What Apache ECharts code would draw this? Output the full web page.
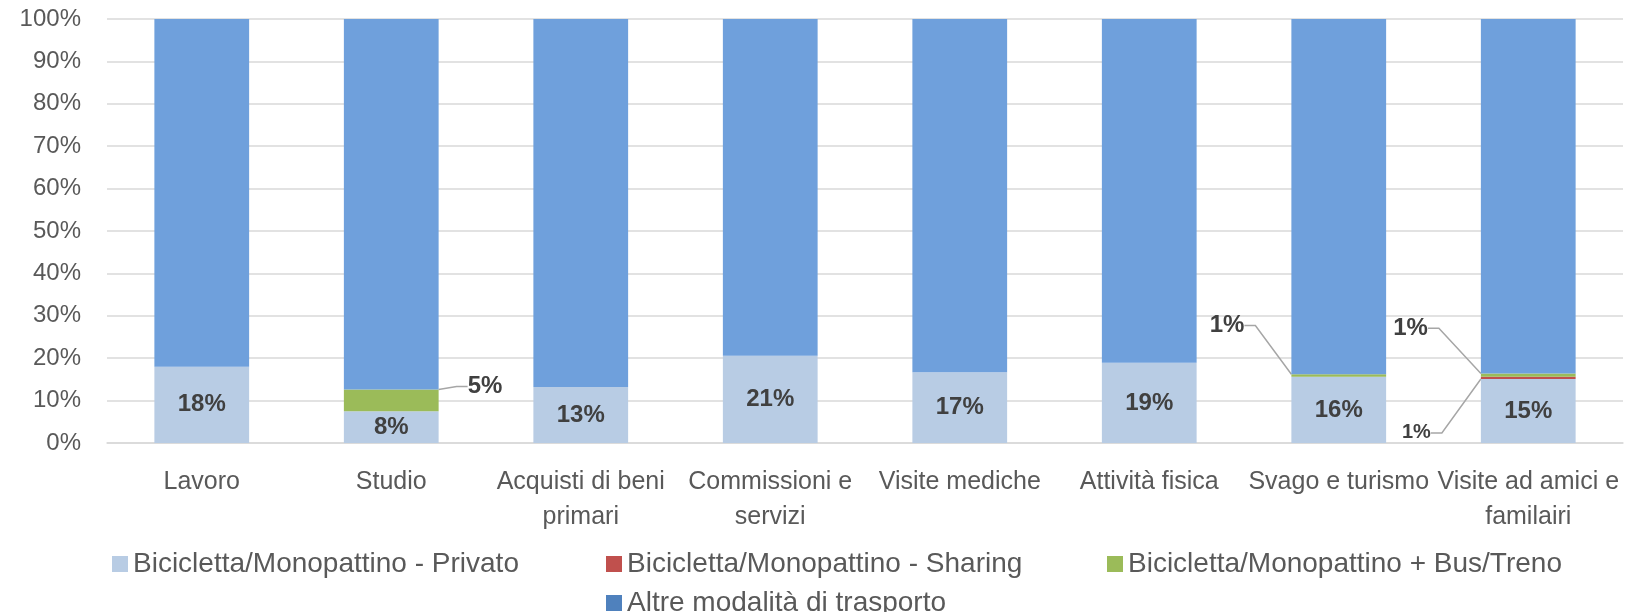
<!DOCTYPE html>
<html>
<head>
<meta charset="utf-8">
<script src="https://cdn.jsdelivr.net/npm/echarts@6/dist/echarts.min.js"></script>
<style>
	html, body { margin: 0; padding: 0; background: #fff; }
	#main { width: 1640px; height: 612px; }
</style>
</head>
<body>
<div id="main"></div>
<script>
// categorie
var categories = ['Lavoro', 'Studio', 'Acquisti di beni\nprimari', 'Commissioni e\nservizi', 'Visite mediche', 'Attività fisica', 'Svago e turismo', 'Visite ad amici e\nfamilairi'];
// serie (%)
var privato  = [18.0, 7.5, 13.2, 20.6, 16.7, 18.9, 15.6, 15.1];
var sharing  = [null, null, null, null, null, null, null, 0.5];
var busTreno = [null, 5.1, null, null, null, null, 0.6, 0.8];
var altre    = [82.0, 87.4, 86.8, 79.4, 83.3, 81.1, 83.8, 83.6];
var yTicks = [0, 10, 20, 30, 40, 50, 60, 70, 80, 90, 100];

var FONT = 'Liberation Sans';
var names = [
	'Bicicletta/Monopattino - Privato',
	'Bicicletta/Monopattino - Sharing',
	'Bicicletta/Monopattino + Bus/Treno',
	'Altre modalità di trasporto'
];

// posizione etichette esterne (per categoria)
var greenPos = {1: ['right', 16, -14], 6: ['left', -34, -50], 7: ['left', -40, -47]};
var redPos = {7: ['left', -37, 55]};

function pct(p) { return Math.round(p.value) + '%'; }

function smallData(values, pos) {
	return values.map(function(v, i) {
		if (v == null) return null;
		return {value: v, label: {position: pos[i] ? pos[i][0] : 'right'}};
	});
}

function layoutFrom(pos) {
	return function(p) {
		var o = pos[p.dataIndex];
		return o ? {dx: o[1], dy: o[2]} : {};
	};
}

// una legenda per voce, disposta come in Excel (griglia)
function legendItem(item, left, top) {
	return {
		data: [item],
		left: left, top: top,
		itemWidth: 16, itemHeight: 16, itemGap: 7,
		icon: 'rect', selectedMode: false,
		textStyle: {fontSize: 28, color: '#595959', lineHeight: 30, fontFamily: FONT}
	};
}

var labelLine = {show: true, length2: 11, lineStyle: {color: '#a6a6a6', width: 1.5}};

var dom = document.getElementById('main');
var myChart = echarts.init(dom);
myChart.setOption({
	animation: false,
	textStyle: {fontFamily: FONT},
	grid: {left: 107, right: 17, top: 19, bottom: 169},
	legend: [
		legendItem(names[0], 107, 544),
		legendItem(names[1], 601, 544),
		legendItem(names[2], 1102, 544),
		legendItem({name: names[3], itemStyle: {color: '#4f81bd'}}, 601, 583)
	],
	xAxis: {
		type: 'category',
		data: categories,
		axisTick: {show: false},
		axisLine: {lineStyle: {color: '#d9d9d9', width: 1.5}},
		axisLabel: {
			interval: 0, margin: 22,
			fontSize: 25, lineHeight: 35, color: '#595959', fontFamily: FONT
		}
	},
	yAxis: {
		type: 'value',
		min: yTicks[0], max: yTicks[yTicks.length - 1], interval: 10,
		axisLine: {show: false},
		axisTick: {show: false},
		splitLine: {lineStyle: {color: '#d9d9d9', width: 1.5}},
		axisLabel: {
			formatter: '{value}%', margin: 26,
			fontSize: 24, color: '#595959', fontFamily: FONT
		}
	},
	series: [
		{
			name: names[0], type: 'bar', stack: 'tot', barWidth: '50%',
			itemStyle: {color: '#b8cce4'},
			label: {
				show: true, position: 'inside', formatter: pct,
				fontSize: 24, fontWeight: 'bold', color: '#404040', fontFamily: FONT
			},
			data: privato
		},
		{
			name: names[1], type: 'bar', stack: 'tot', barWidth: '50%',
			itemStyle: {color: '#c0504d'},
			label: {
				show: true, formatter: pct, padding: [0, 8],
				fontSize: 20, fontWeight: 'bold', color: '#404040', fontFamily: FONT
			},
			labelLine: labelLine,
			labelLayout: layoutFrom(redPos),
			data: smallData(sharing, redPos)
		},
		{
			name: names[2], type: 'bar', stack: 'tot', barWidth: '50%',
			itemStyle: {color: '#9bbb59'},
			label: {
				show: true, formatter: pct, padding: [0, 8],
				fontSize: 24, fontWeight: 'bold', color: '#404040', fontFamily: FONT
			},
			labelLine: labelLine,
			labelLayout: layoutFrom(greenPos),
			data: smallData(busTreno, greenPos)
		},
		{
			name: names[3], type: 'bar', stack: 'tot', barWidth: '50%',
			itemStyle: {color: '#6fa0dc'},
			data: altre
		}
	]
});

window.onresize = function() {
	myChart.resize();
};
</script>
</body>
</html>
